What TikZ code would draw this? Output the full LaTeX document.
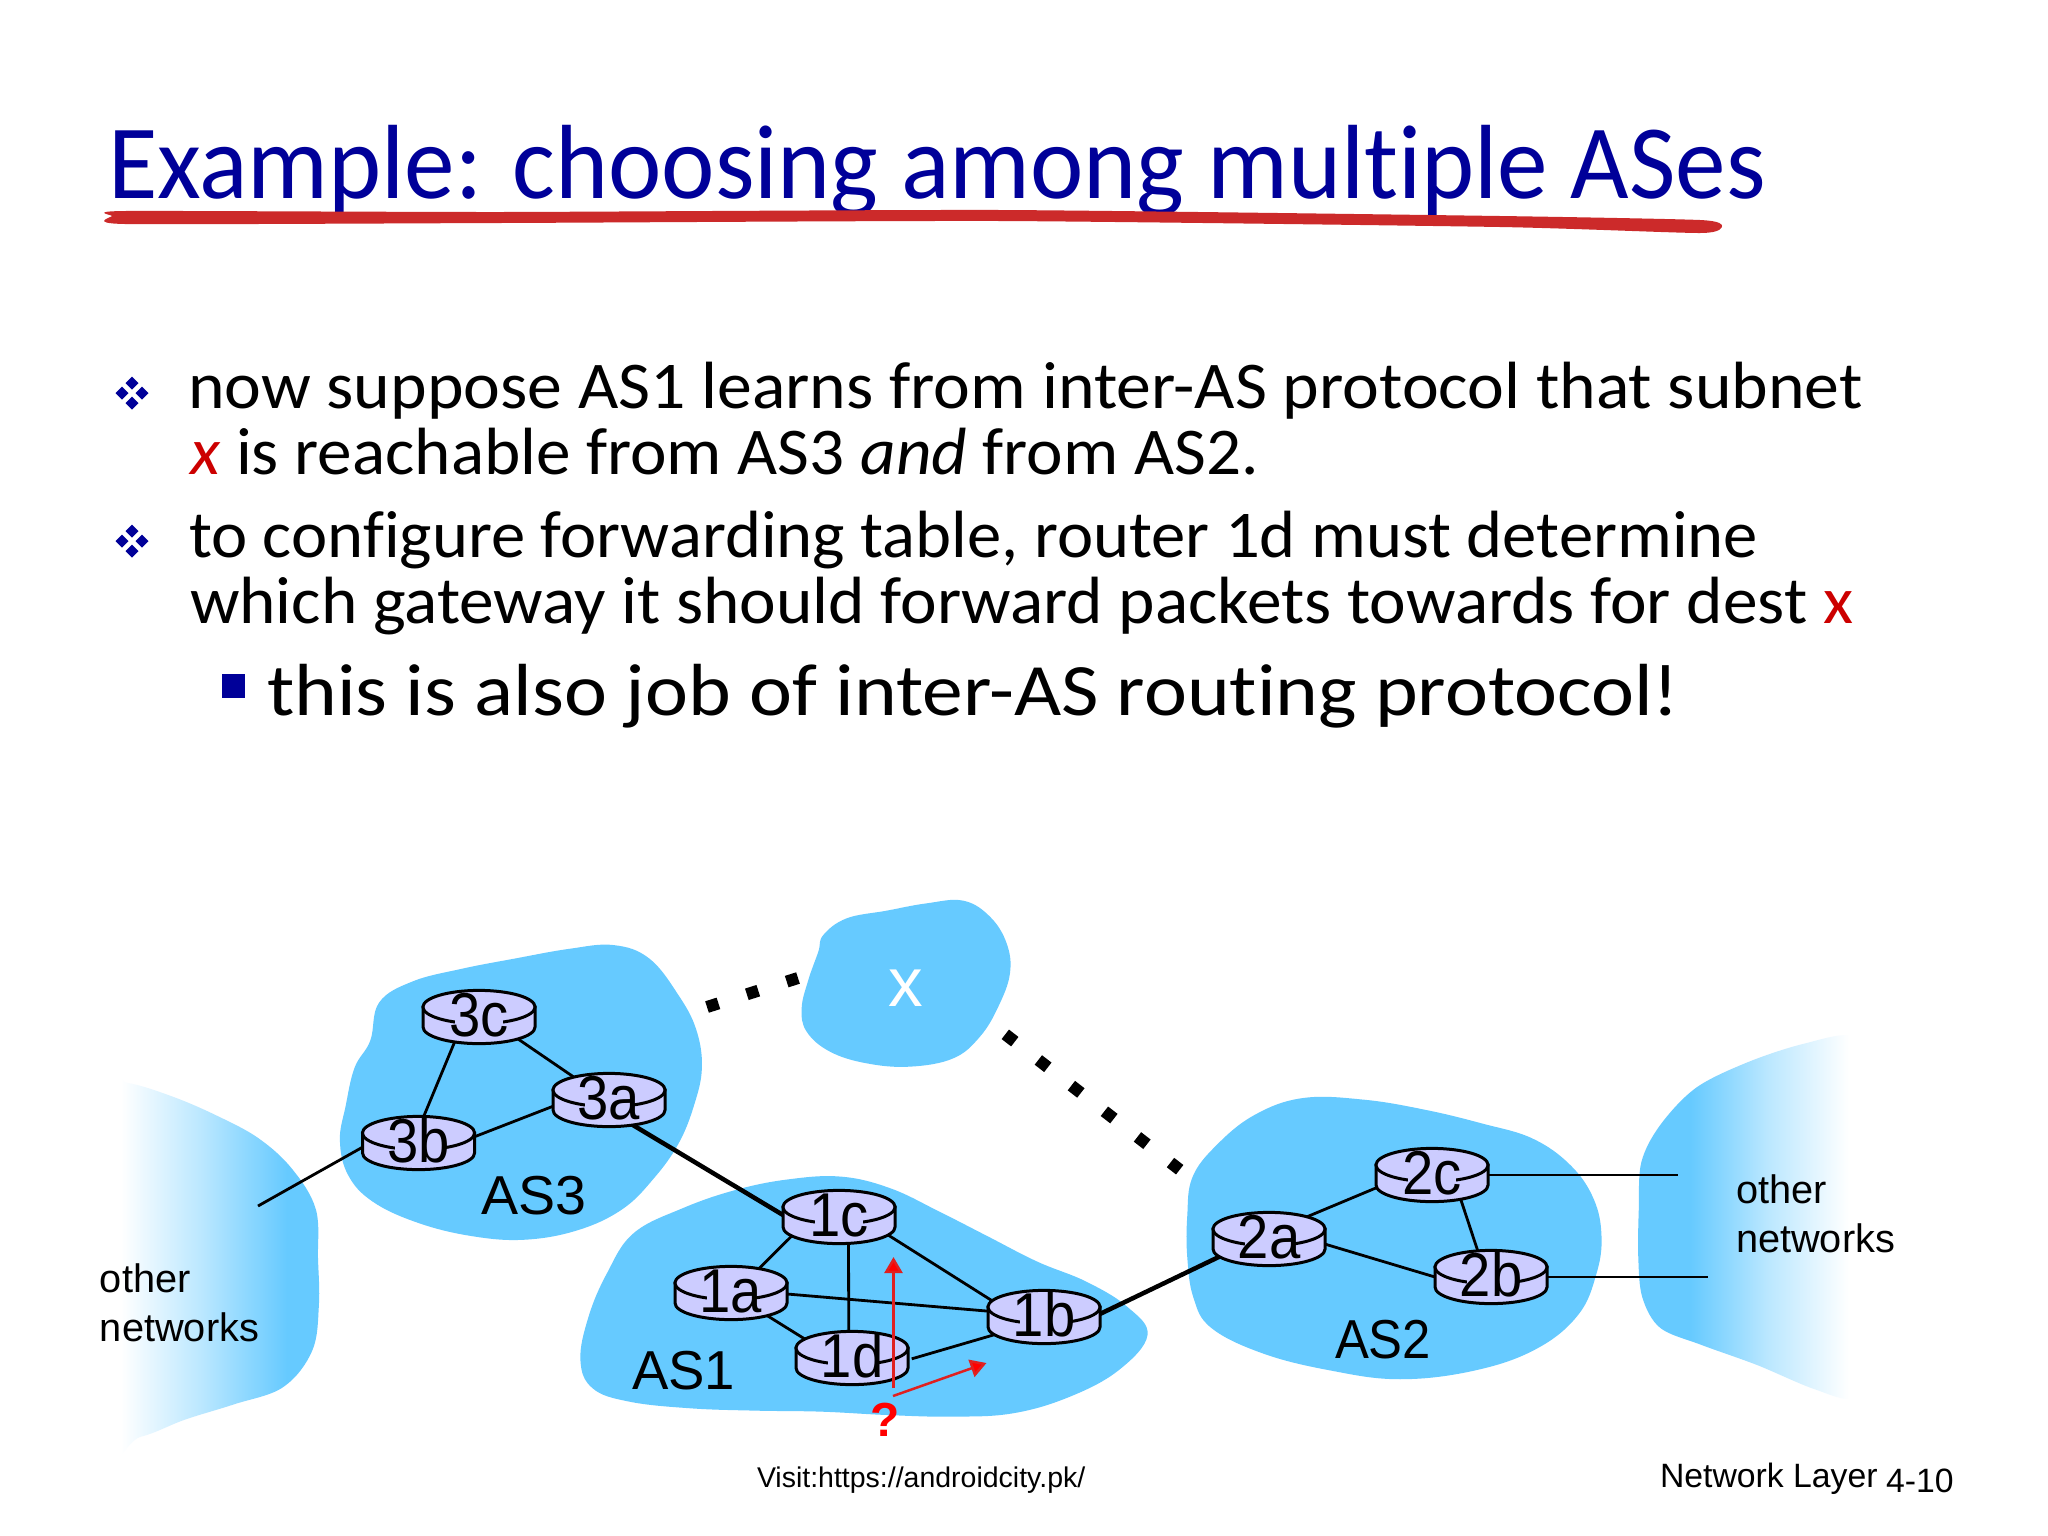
\documentclass[tikz,border=0pt]{standalone}
\usepackage{fontspec}
\usepackage{graphicx}
\usetikzlibrary{shapes.geometric,arrows.meta}
\setmainfont{Carlito}[Ligatures=NoCommon]
\newfontfamily\arialf{Liberation Sans}
\definecolor{cloudblue}{HTML}{66CAFF}
\definecolor{navyt}{HTML}{000099}
\definecolor{redx}{HTML}{CC0000}
\definecolor{redline}{HTML}{CC2A2A}
\definecolor{rfill}{HTML}{CCCCFF}
\definecolor{redarrow}{HTML}{E02020}
\colorlet{cloudmidA}{cloudblue!45!white}
\pgfdeclarehorizontalshading{fadeR}{100bp}{color(0bp)=(white); color(33bp)=(white); color(50bp)=(cloudmidA); color(68bp)=(cloudblue); color(100bp)=(cloudblue)}
\pgfdeclarehorizontalshading{fadeL}{100bp}{color(0bp)=(cloudblue); color(36bp)=(cloudblue); color(52bp)=(cloudmidA); color(69bp)=(white); color(100bp)=(white)}
\newcommand{\fitline}[2]{\resizebox{#1cm}{\height}{#2}}
\tikzset{
 x=0.01cm,y=-0.01cm,
 cloud/.style={fill=cloudblue},
 txt/.style={inner sep=0pt,outer sep=0pt,anchor=base west},
 titlefont/.style={txt,font=\fontsize{30pt}{30pt}\selectfont,text=navyt},
 bodyfont/.style={txt,font=\fontsize{19pt}{19pt}\selectfont},
 subfont/.style={txt,font=\fontsize{21pt}{21pt}\selectfont},
 aslabel/.style={txt,font=\arialf\fontsize{15.6pt}{15.6pt}\selectfont},
 netlabel/.style={txt,font=\arialf\fontsize{11.3pt}{11.3pt}\selectfont},
 footlabel/.style={txt,font=\arialf\fontsize{9.6pt}{9.6pt}\selectfont},
 rnode/.style={ellipse,minimum width=1.12cm,minimum height=0.53cm,inner sep=0pt,outer sep=0pt},
 rlabel/.style={inner sep=0pt,outer sep=0pt,anchor=base,font=\arialf\fontsize{16pt}{16pt}\selectfont},
 rline/.style={draw=black,fill=rfill,line width=0.03cm},
 link/.style={draw=black,line width=0.028cm},
 thicklink/.style={draw=black,line width=0.045cm},
 dotlink/.style={draw=black,line width=0.12cm,dash pattern=on 0.12cm off 0.298cm},
 redarr/.style={draw=redarrow,line width=0.025cm,-{Triangle[length=0.16cm,width=0.18cm,fill=red]}},
}
\newcommand{\rshape}[2]{%
 \path[rline] (#1.center) ++(-56,-10) -- ++(0,20) arc[start angle=180,end angle=360,x radius=0.56cm,y radius=0.166cm] -- ++(0,-20) -- cycle;
 \path[rline] (#1.center) ++(0,-10) ellipse[x radius=0.56cm,y radius=0.166cm];
 \fill[rfill] (#1.center) ++(-24,1) rectangle ++(48,9);
 \node[rlabel] (#1t) at ([yshift=-0.195cm]#1.center) {\scalebox{1}[1.1]{#2}};
}
\newcommand{\dbullet}[2]{%
 \foreach \dx/\dy in {0/-10,-10/0,10/0,0/10}
  \fill[navyt] (#1+\dx-6.5,#2+\dy) -- (#1+\dx,#2+\dy-6.5) -- (#1+\dx+6.5,#2+\dy) -- (#1+\dx,#2+\dy+6.5) -- cycle;
}
\begin{document}
\begin{tikzpicture}
\useasboundingbox (0,0) rectangle (2048,1536);
\fill[white] (0,0) rectangle (2048,1536);

% title
\node[titlefont] (title) at (108,198) {\fitline{16.57}{Example: choosing among multiple ASes}};
\fill[redline] plot[smooth cycle,tension=0.35] coordinates {(112,216) (125,211) (500,212) (1000,210) (1500,216) (1700,220) (1722,226) (1700,233) (1500,227) (1000,221) (500,223) (125,224)};

% bullets
\dbullet{132}{393}
\dbullet{132}{541}
\fill[navyt] (222,674) rectangle (245,698);

% body text
\node[bodyfont] (l1) at (188,408) {\fitline{16.74}{now suppose AS1 learns from inter-AS protocol that subnet}};
\node[bodyfont] (l2) at (190,474) {\fitline{10.68}{\textcolor{redx}{\textit{x}} is reachable from AS3 \textit{and} from AS2.}};
\node[bodyfont] (l3) at (189,557) {\fitline{15.68}{to configure forwarding table, router 1d must determine}};
\node[bodyfont] (l4) at (190,623) {\fitline{16.62}{which gateway it should forward packets towards for dest \textcolor{redx}{x}}};
\node[subfont] (l5) at (267,715) {\fitline{14.12}{this is also job of inter-AS routing protocol!}};

% other networks, left; AS3
\begin{scope}[shift={(60,880)},xscale=0.4464,yscale=0.3827]
\shade[shading=fadeR] plot[smooth cycle,tension=0.6] coordinates {(70,532) (150,530) (250,565) (350,615) (445,675) (520,755) (573,860) (578,990) (580,1110) (565,1230) (500,1325) (390,1370) (280,1410) (180,1455) (70,1470)};
\fill[cloud] plot[smooth cycle,tension=0.65] coordinates {(715,320) (790,265) (900,232) (1020,205) (1140,180) (1240,170) (1320,205) (1385,300) (1425,390) (1438,490) (1420,590) (1385,690) (1330,780) (1260,860) (1160,915) (1040,940) (920,930) (800,895) (700,840) (645,770) (627,680) (640,590) (660,490) (695,420)};
\end{scope}
% AS1
\begin{scope}[shift={(560,1140)},xscale=0.408,yscale=0.3333]
\fill[cloud] plot[smooth cycle,tension=0.65] coordinates {(50,660) (70,530) (115,400) (180,280) (300,205) (430,150) (560,118) (690,110) (810,145) (930,215) (1050,290) (1170,365) (1290,425) (1390,500) (1440,585) (1370,690) (1250,770) (1110,820) (960,830) (800,825) (640,815) (480,812) (320,805) (170,785) (80,745)};
\end{scope}
% AS2 and right networks
\begin{scope}[shift={(1150,1000)},xscale=0.5102,yscale=0.338]
\fill[cloud] plot[smooth cycle,tension=0.65] coordinates {(83,525) (130,430) (205,340) (300,290) (420,295) (540,325) (650,365) (750,410) (825,490) (870,590) (885,700) (875,810) (840,930) (760,1030) (640,1095) (490,1122) (350,1095) (220,1045) (120,970) (85,880) (73,760) (73,640)};
\shade[shading=fadeL] plot[smooth cycle,tension=0.55] coordinates {(963,480) (1000,370) (1070,260) (1170,185) (1280,130) (1380,108) (1420,220) (1420,400) (1420,640) (1420,900) (1420,1080) (1380,1178) (1300,1150) (1190,1080) (1080,1020) (1000,970) (965,880) (957,760) (958,620)};
\end{scope}
% x cloud
\begin{scope}[shift={(690,880)},scale=0.3333]
\fill[cloud] plot[smooth cycle,tension=0.65] coordinates {(400,165) (470,115) (590,92) (710,70) (820,62) (900,110) (950,190) (960,280) (925,380) (870,470) (790,535) (660,560) (530,550) (420,515) (350,455) (335,385) (355,300) (385,215)};
\end{scope}
\node[txt,anchor=base,text=white,font=\arialf\fontsize{19.7pt}{19.7pt}\selectfont] (xlabel) at (906,1006) {x};

% dotted links
\coordinate (da) at (707,1007);
\coordinate (db) at (798,978);
\coordinate (dc) at (1005.3,1034.3);
\coordinate (dd) at (1179.7,1169.7);
\path[dotlink] (da) -- (db);
\path[dotlink] (dc) -- (dd);

% router anchors
\node[rnode] (r3c) at (479,1017) {};
\node[rnode] (r3a) at (609,1100) {};
\node[rnode] (r3b) at (418.5,1143) {};
\node[rnode] (r1c) at (839,1217) {};
\node[rnode] (r1a) at (731,1293) {};
\node[rnode] (r1d) at (852,1358) {};
\node[rnode] (r1b) at (1044,1317) {};
\node[rnode] (r2a) at (1269,1239) {};
\node[rnode] (r2c) at (1432,1175) {};
\node[rnode] (r2b) at (1491,1277) {};
\coordinate (f3b) at (258,1206);
\coordinate (f2c) at (1678,1175);
\coordinate (f2b) at (1708,1277);

% links
\path[link] (r3c.225) -- (r3b.79);
\path[link] (r3c.-29) -- (r3a.147);
\path[link] (r3b.6) -- (r3a.186);
\path[link] (r3b.184) -- (f3b);
\path[thicklink] (r3a.-47) -- (r1c.178);
\path[link] (r1c.200) -- (r1a.41);
\path[link] (r1c.-70) -- (r1d.97);
\path[link] (r1c.-19) -- (r1b.164);
\path[link] (r1a.-1) -- (r1b.174);
\path[link] (r1a.-32) -- (r1d.159);
\path[link,shorten <=0.04cm] (r1d.-2) -- (r1b.200);
\path[thicklink] (r1b.3) -- (r2a.199);
\path[link] (r2a.31) -- (r2c.192);
\path[link] (r2a.-5) -- (r2b.180);
\path[link] (r2c.-39) -- (r2b.117);
\path[link] (r2c.0) -- (f2c);
\path[link] (r2b.0) -- (f2b);

% routers
\rshape{r3c}{3c}
\rshape{r3a}{3a}
\rshape{r3b}{3b}
\rshape{r1c}{1c}
\rshape{r1a}{1a}
\rshape{r1d}{1d}
\rshape{r1b}{1b}
\rshape{r2a}{2a}
\rshape{r2c}{2c}
\rshape{r2b}{2b}

% red arrows
\coordinate (qa) at (893.5,1388);
\coordinate (qb) at (893.5,1257);
\coordinate (qc) at (893,1396);
\coordinate (qd) at (986.5,1363);
\path[redarr] (qa) -- (qb);
\path[redarr] (qc) -- (qd);
\node[txt,anchor=base,text=red,font=\arialf\bfseries\fontsize{13.6pt}{13.6pt}\selectfont] (qm) at (885,1436) {?};

% labels
\node[aslabel] (as3) at (481,1214) {\fitline{1.05}{AS3}};
\node[aslabel] (as1) at (632,1389) {\fitline{1.03}{AS1}};
\node[aslabel] (as2) at (1335,1358) {\fitline{0.96}{AS2}};
\node[netlabel] (o1a) at (100,1292) {other};
\node[netlabel] (o1b) at (100,1341) {networks};
\node[netlabel] (o2a) at (1736,1203) {other};
\node[netlabel] (o2b) at (1736,1252) {networks};
\node[txt,font=\arialf\fontsize{8.1pt}{8.1pt}\selectfont] (visit) at (757,1487) {Visit:https://androidcity.pk/};
\node[footlabel] (nl) at (1660,1487) {Network Layer};
\node[footlabel] (pg) at (1886,1492) {4-10};
\end{tikzpicture}
\end{document}
